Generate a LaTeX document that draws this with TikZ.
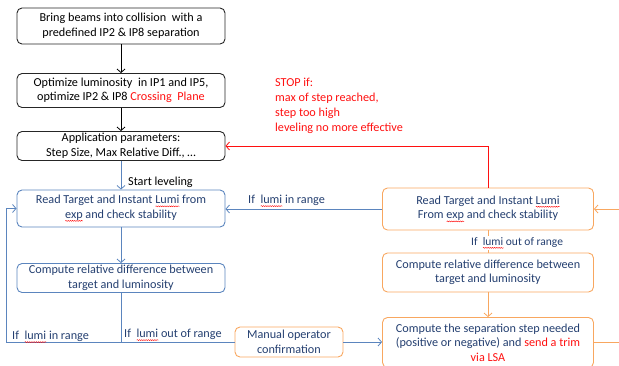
\documentclass[tikz,border=0pt]{standalone}
\usepackage{fontspec}
\setmainfont{Carlito}
\usetikzlibrary{arrows.meta,decorations.pathmorphing}
\definecolor{navy}{HTML}{243F70}
\definecolor{oblue}{HTML}{5B85BE}
\definecolor{oorange}{HTML}{F8A760}
\definecolor{ored}{HTML}{FF1010}
\newdimen\sqwd
\newcommand\sqw[1]{\setbox0\hbox{#1}\sqwd=\wd0\relax\rlap{\tikz[baseline=0pt,x=1pt,y=1pt,sharp corners]\draw[red, line width=0.4pt, sharp corners, decorate, decoration={snake, amplitude=0.5pt, segment length=2.2pt}] (0pt,-2.4pt) -- (\the\sqwd,-2.4pt);}#1}
\begin{document}
\begin{tikzpicture}[x=1bp,y=-1bp,
  every node/.style={font=\fontsize{12.2bp}{14.6bp}\selectfont, align=center, inner sep=0pt},
  bx/.style={draw, rounded corners=5bp, line width=0.9bp},
  kbox/.style={bx, draw=black!85, text=black},
  bbox/.style={bx, draw=oblue, text=navy},
  obox/.style={bx, draw=oorange, text=navy},
  arr/.style={-{Straight Barb[length=3.5bp,width=8bp]}, line width=0.8bp},
  ln/.style={line width=0.8bp},
  lbl/.style={text=navy, anchor=west}]
\useasboundingbox (0,0) rectangle (619,365);
% left column
\node[kbox, minimum width=208bp, minimum height=36bp] (b1) at (121,26)
  {Bring beams into collision\ \ with a\\predefined IP2 \& IP8 separation};
\node[kbox, minimum width=208bp, minimum height=34bp] (b2) at (121,90.5)
  {Optimize luminosity\ \ in IP1 and IP5,\\optimize IP2 \& IP8 \textcolor{ored}{Crossing\ \ Plane}};
\node[kbox, minimum width=208bp, minimum height=29bp] (b3) at (121,146)
  {Application parameters:\\Step Size, Max Relative Diff., \dots};
\node[bbox, minimum width=208bp, minimum height=37bp] (b4) at (121,208.5)
  {Read Target and Instant \sqw{Lumi} from\\\sqw{exp} and check stability};
\node[bbox, minimum width=208bp, minimum height=29bp] (b5) at (121,278)
  {Compute relative difference between\\target and luminosity};
\node[obox, minimum width=108bp, minimum height=30bp] (man) at (289,342)
  {Manual operator\\confirmation};
% right column
\node[obox, minimum width=211bp, minimum height=42bp] (b6) at (488,209)
  {Read Target and Instant \sqw{Lumi}\\From \sqw{exp} and check stability};
\node[obox, minimum width=211bp, minimum height=39bp] (b7) at (488,272.5)
  {Compute relative difference between\\target and luminosity};
\node[obox, minimum width=211bp, minimum height=50bp] (b8) at (488,342.5)
  {Compute the separation step needed\\(positive or negative) and \textcolor{ored}{send a trim}\\\textcolor{ored}{via LSA}};
% red text
\node[anchor=north west, align=left, text=ored, font=\fontsize{12.2bp}{15bp}\selectfont] (stop) at (275,78)
  {STOP if:\\max of step reached,\\step too high\\leveling no more effective};
% connectors
\draw[arr, black] (b1) -- (b2);
\draw[arr, black] (b2) -- (b3);
\draw[arr, oblue] (b3) -- (b4);
\draw[arr, oblue] (b4) -- (b5);
\coordinate (lc) at (6,342);
\draw[ln, oblue] (b5.south) -- (b5.south |- man.west);
\draw[arr, oblue] (man.west) -- (lc) |- (b4.west);
\draw[arr, oblue] (man.east) -- (b8.west |- man.east);
\draw[arr, ored] (b6.north) |- (b3.east);
\draw[arr, oblue] (b6.west) -- (b4.east |- b6.west);
\draw[ln, oorange] (b6) -- (b7);
\draw[arr, oorange] (b7) -- (b8);
\coordinate (re1) at (619,342);
\coordinate (re2) at (619,209);
\draw[ln, oorange] (b8.east |- re1) -- (re1);
\draw[arr, oorange] (re2) -- (b6.east);
% labels
\node[anchor=west, text=black] (ls) at (128,182) {Start leveling};
\node[lbl] (l1) at (248,201) {If\ \ \sqw{lumi} in range};
\node[lbl] (l2) at (12,337) {If\ \ \sqw{lumi} in range};
\node[lbl] (l3) at (124,335) {If\ \ \sqw{lumi} out of range};
\node[lbl, fill=white, inner sep=1bp, font=\fontsize{11.5bp}{14bp}\selectfont] (l4) at (470,243) {If\ \ \sqw{lumi} out of range};
\end{tikzpicture}
\end{document}
